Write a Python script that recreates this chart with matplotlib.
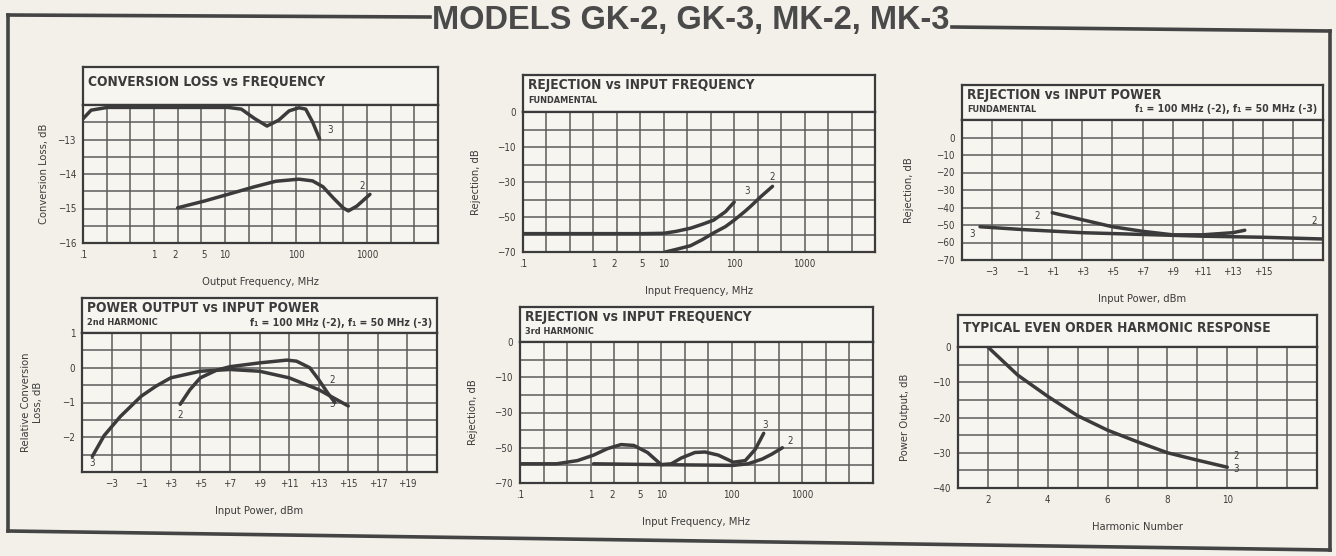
import numpy as np
import matplotlib
matplotlib.use("Agg")
from matplotlib import pyplot as plt
from matplotlib.lines import Line2D
from matplotlib.ticker import NullFormatter

W, H = 1336, 556
PAPER = "#f2f0e8"
BOX = "#f6f5f0"
INK = "#3b3b3b"
GRID = "#5c5c5c"

plt.rcParams['font.family'] = ['DejaVu Sans']
plt.rcParams['font.stretch'] = 'condensed'

# ---- conversion loss vs frequency (log MHz, dB)
cl_freq_3 = [0.1, 0.13, 0.22, 0.5, 2, 5, 11, 17, 26, 39, 57, 80, 110, 137, 171, 215]
cl_loss_3 = [-12.4, -12.15, -12.07, -12.07, -12.07, -12.07, -12.07, -12.12, -12.39,
             -12.61, -12.44, -12.17, -12.08, -12.12, -12.49, -12.98]
cl_freq_2 = [2.15, 5.2, 11, 26, 52, 110, 171, 240, 330, 460, 546, 720, 1100]
cl_loss_2 = [-14.98, -14.78, -14.59, -14.37, -14.21, -14.15, -14.2, -14.37, -14.68,
             -14.98, -15.07, -14.93, -14.59]

# ---- rejection vs input frequency, fundamental
rf_freq_3 = [0.1, 1, 5, 10, 15, 24, 35, 51, 75, 100]
rf_rej_3 = [-59.5, -59.5, -59.5, -59.3, -58.2, -56.4, -54.2, -51.8, -47, -41.5]
rf_freq_2 = [10.5, 15, 24, 35, 51, 75, 100, 140, 170, 240, 350]
rf_rej_2 = [-70, -68.5, -66.4, -63, -59.1, -55.5, -51.8, -47, -44, -38.3, -32.5]

# ---- rejection vs input power, fundamental
rp_pin_3 = [-3.8, -1, 3, 7, 11, 15, 19]
rp_rej_3 = [-51, -52.6, -54.4, -55.4, -56.4, -57, -58]
rp_pin_2 = [1, 3, 5, 7, 9, 11, 13, 13.8]
rp_rej_2 = [-43, -47, -51, -53.6, -55.6, -55.6, -54.4, -53]

# ---- power output vs input power, 2nd harmonic
po_pin_3 = [-4.3, -3.5, -2.4, -1, 1, 3, 5, 7, 9, 11, 13, 15]
po_rel_3 = [-2.55, -1.95, -1.4, -0.82, -0.53, -0.29, -0.1, -0.05, -0.1, -0.29, -0.63, -1.1]
po_pin_2 = [3.64, 4.3, 5, 6.1, 7, 9, 10.85, 11.5, 12.4, 13, 13.6, 14.1]
po_rel_2 = [-1.05, -0.63, -0.29, -0.07, 0.03, 0.14, 0.22, 0.19, 0.0, -0.34, -0.72, -1.0]

# ---- rejection vs input frequency, 3rd harmonic
r3_freq_3 = [0.1, 0.33, 0.65, 1.1, 1.73, 2.7, 4.1, 6.4, 10, 13.9, 19.3, 30, 41.7,
             64.5, 105, 155, 215, 283]
r3_rej_3 = [-59.1, -59.1, -57.3, -54.2, -50.5, -48.2, -48.7, -52.7, -59.6, -59.1,
            -55.8, -52.7, -52.4, -54.2, -58.2, -57.3, -50.9, -41.8]
r3_freq_2 = [1.1, 10, 105, 170, 270, 370, 520]
r3_rej_2 = [-59.1, -59.6, -60, -59.1, -56.4, -53.6, -50]

# ---- typical even order harmonic response
harm_n = [2, 3, 4, 5, 6, 7, 8, 9, 10]
harm_db = [0, -8, -14, -19.5, -23.6, -26.9, -30, -32.1, -34.1]

# printed tick labels
freq_ticks = [0.1, 1, 2, 5, 10, 100, 1000]
freq_labels = [".1", "1", "2", "5", "10", "100", "1000"]
rej_printed = [-70, -50, -30, -10, 0]
rej_labels = ["\u221270", "\u221250", "\u221230", "\u221210", "0"]
pin_printed = [-5, -3, -1, 3, 5, 7, 9, 11, 13, 15, 17, 19, 21]
pin4_labels = ["\u22123", "\u22121", "+3", "+5", "+7", "+9", "+11", "+13", "+15", "+17", "+19"]
pin3_ticks = [-3, -1, 1, 3, 5, 7, 9, 11, 13, 15]
pin3_labels = ["\u22123", "\u22121", "+1", "+3", "+5", "+7", "+9", "+11", "+13", "+15"]
f_note = "f\u2081 = 100 MHz (-2), f\u2081 = 50 MHz (-3)"


def lab(v):
    return ("\u2212%g" % -v) if v < 0 else "%g" % v


fig = plt.figure(figsize=(W / 100, H / 100), dpi=100, facecolor=PAPER)


def panel(box):
    x0, x1, top, sep, bot = box
    tax = fig.add_axes([x0 / W, 1 - sep / H, (x1 - x0) / W, (sep - top) / H])
    ax = fig.add_axes([x0 / W, 1 - bot / H, (x1 - x0) / W, (bot - sep) / H])
    for a in (tax, ax):
        a.set_facecolor(BOX)
        for s in a.spines.values():
            s.set_linewidth(1.6)
            s.set_color(INK)
    tax.set_xticks([])
    tax.set_yticks([])
    tax.set_xlim(0, 1)
    tax.set_ylim(0, 1)
    ax.tick_params(which='both', length=0, labelsize=7, colors=INK, pad=5)
    ax.xaxis.remove_overlapping_locs = False
    ax.yaxis.remove_overlapping_locs = False
    return tax, ax


def grid(ax, xs, ys):
    ax.set_xticks(xs, minor=True)
    ax.set_yticks(ys, minor=True)
    ax.xaxis.set_minor_formatter(NullFormatter())
    ax.yaxis.set_minor_formatter(NullFormatter())
    ax.grid(which='minor', color=GRID, lw=1.1)
    ax.grid(which='major', visible=False)
    ax.tick_params(which='both', length=0)


def printed_scale(ax, axis, printed):
    idx = np.arange(len(printed), dtype=float)
    fwd = lambda v: np.interp(v, printed, idx)
    inv = lambda v: np.interp(v, idx, printed)
    if axis == 'x':
        ax.set_xscale('function', functions=(fwd, inv))
    else:
        ax.set_yscale('function', functions=(fwd, inv))


def curve(ax, x, y):
    ax.plot(x, y, color=INK, lw=2.5, solid_capstyle='round', solid_joinstyle='round', zorder=3)


def titles(tax, main, sub=None, note=None):
    if sub is None:
        tax.text(0.015, 0.6, main, fontsize=9.8, weight='bold', color=INK, va='center')
    else:
        tax.text(0.015, 0.72, main, fontsize=9.8, weight='bold', color=INK, va='center')
        tax.text(0.015, 0.3, sub, fontsize=6.6, weight='bold', color=INK, va='center')
    if note:
        tax.text(0.985, 0.3, note, fontsize=7.6, weight='bold', color=INK, va='center', ha='right')


def num(ax, x, y, s):
    ax.text(x, y, s, fontsize=7, color=INK, ha='center', va='center', zorder=4)


def labels(ax, xl, yl, ypad):
    ax.set_xlabel(xl, fontsize=8, color=INK, labelpad=12)
    ax.set_ylabel(yl, fontsize=8, color=INK, labelpad=ypad)


log_grid = 10 ** np.arange(-1, 4.001, 1 / 3)
rej_grid = [-70, -60, -50, -40, -30, -20, -10, -5, 0]

# panel 1
tax, ax = panel((83, 438, 67, 105, 243))
titles(tax, "CONVERSION LOSS vs FREQUENCY")
ax.set_xscale('log')
ax.set_xlim(0.1, 1e4)
ax.set_ylim(-16, -12)
ax.set_xticks(freq_ticks, freq_labels)
ax.set_yticks([-16, -15, -14, -13], [lab(v) for v in [-16, -15, -14, -13]])
grid(ax, log_grid, np.arange(-15.5, -12.2, 0.5))
curve(ax, cl_freq_3, cl_loss_3)
curve(ax, cl_freq_2, cl_loss_2)
num(ax, 300, -12.73, "3")
num(ax, 850, -14.34, "2")
labels(ax, "Output Frequency, MHz", "Conversion Loss, dB", 6)

# panel 2
tax, ax = panel((523, 875, 75, 112, 252))
titles(tax, "REJECTION vs INPUT FREQUENCY", "FUNDAMENTAL")
ax.set_xscale('log')
ax.set_xlim(0.1, 1e4)
printed_scale(ax, 'y', rej_printed)
ax.set_ylim(-70, 0)
ax.set_xticks(freq_ticks, freq_labels)
ax.set_yticks(rej_printed, rej_labels)
grid(ax, log_grid, rej_grid)
curve(ax, rf_freq_3, rf_rej_3)
curve(ax, rf_freq_2, rf_rej_2)
num(ax, 155, -35, "3")
num(ax, 350, -27, "2")
labels(ax, "Input Frequency, MHz", "Rejection, dB", 12)

# panel 3
tax, ax = panel((962, 1323, 85, 120, 260))
titles(tax, "REJECTION vs INPUT POWER", "FUNDAMENTAL", f_note)
ax.set_xlim(-5, 19)
ax.set_ylim(-70, 10)
ax.set_xticks(pin3_ticks, pin3_labels)
ax.set_yticks(np.arange(-70, 1, 10), [lab(v) for v in np.arange(-70, 1, 10)])
grid(ax, np.arange(-3, 18, 2), np.arange(-60, 10, 10))
curve(ax, rp_pin_3, rp_rej_3)
curve(ax, rp_pin_2, rp_rej_2)
num(ax, -4.3, -55, "3")
num(ax, 0.0, -45, "2")
num(ax, 18.4, -48, "2")
labels(ax, "Input Power, dBm", "Rejection, dB", 16)

# panel 4
tax, ax = panel((82, 437, 298, 333, 472))
titles(tax, "POWER OUTPUT vs INPUT POWER", "2nd HARMONIC", f_note)
printed_scale(ax, 'x', pin_printed)
ax.set_xlim(-5, 21)
ax.set_ylim(-3, 1)
ax.set_xticks(pin_printed[1:-1], pin4_labels)
ax.set_yticks([-2, -1, 0, 1], [lab(v) for v in [-2, -1, 0, 1]])
grid(ax, pin_printed[1:-1], np.arange(-2.5, 0.8, 0.5))
curve(ax, po_pin_3, po_rel_3)
curve(ax, po_pin_2, po_rel_2)
num(ax, -4.3, -2.75, "3")
num(ax, 3.6, -1.35, "2")
num(ax, 13.9, -0.35, "2")
num(ax, 13.9, -1.05, "3")
labels(ax, "Input Power, dBm", "Relative Conversion\nLoss, dB", 14)

# panel 5
tax, ax = panel((520, 873, 307, 342, 483))
titles(tax, "REJECTION vs INPUT FREQUENCY", "3rd HARMONIC")
ax.set_xscale('log')
ax.set_xlim(0.1, 1e4)
printed_scale(ax, 'y', rej_printed)
ax.set_ylim(-70, 0)
ax.set_xticks(freq_ticks, freq_labels)
ax.set_yticks(rej_printed, rej_labels)
grid(ax, log_grid, rej_grid)
curve(ax, r3_freq_3, r3_rej_3)
curve(ax, r3_freq_2, r3_rej_2)
num(ax, 300, -37, "3")
num(ax, 680, -46, "2")
labels(ax, "Input Frequency, MHz", "Rejection, dB", 12)

# panel 6
tax, ax = panel((958, 1317, 315, 347, 488))
titles(tax, "TYPICAL EVEN ORDER HARMONIC RESPONSE")
ax.set_xlim(1, 13)
ax.set_ylim(-40, 0)
ax.set_xticks([2, 4, 6, 8, 10], ["2", "4", "6", "8", "10"])
ax.set_yticks(np.arange(-40, 1, 10), [lab(v) for v in np.arange(-40, 1, 10)])
grid(ax, np.arange(2, 13), np.arange(-35, 0, 5))
curve(ax, harm_n, harm_db)
num(ax, 10.3, -31, "2")
num(ax, 10.3, -34.5, "3")
labels(ax, "Harmonic Number", "Power Output, dB", 16)

# outer border of the sheet
border = [((8, 430), (15, 17)), ((952, 1330), (27, 31)), ((8, 8), (15, 531)),
          ((8, 1330), (531, 550)), ((1330, 1330), (31, 550))]
for xs, ys in border:
    fig.add_artist(Line2D([x / W for x in xs], [1 - y / H for y in ys],
                          transform=fig.transFigure, color="#444444", lw=2.6))

fig.text(691 / W, 1 - 20 / H, "MODELS GK-2, GK-3, MK-2, MK-3", ha='center', va='center',
         fontsize=23.5, weight='bold', color="#4a4a4a", stretch='normal',
         family=['Liberation Sans', 'DejaVu Sans'])

fig.savefig("out.png", dpi=100, facecolor=PAPER)
